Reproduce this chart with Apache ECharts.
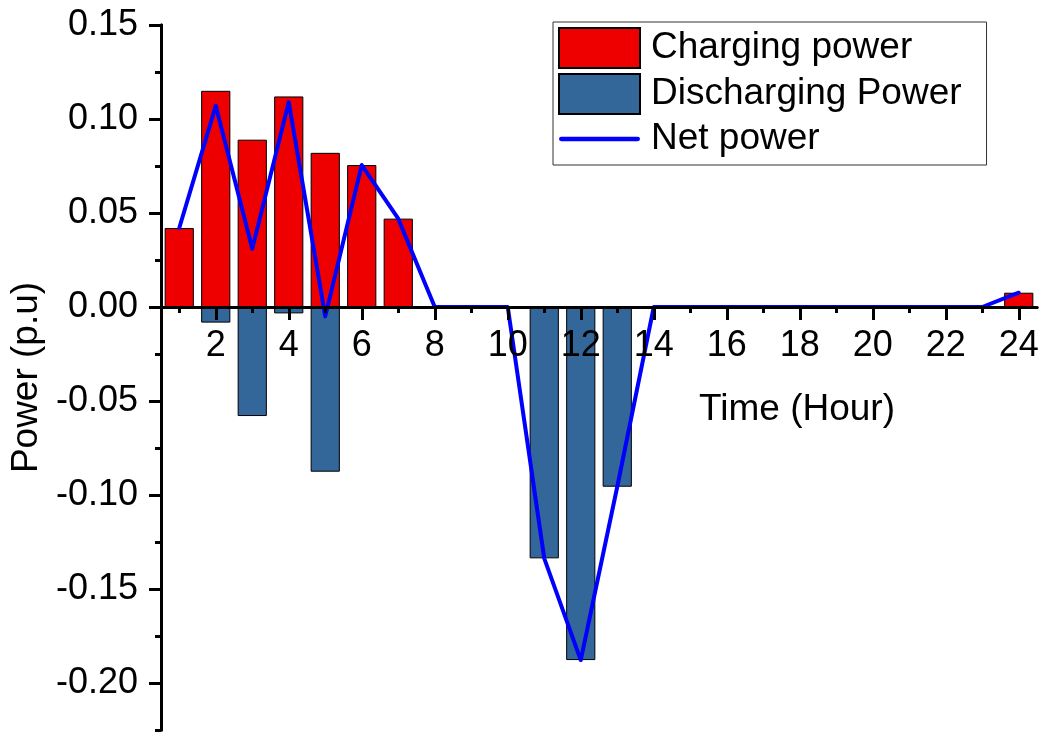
<!DOCTYPE html>
<html>
<head>
<meta charset="utf-8">
<script src="https://cdn.jsdelivr.net/npm/echarts@6/dist/echarts.min.js"></script>
<style>
  html, body { margin: 0; padding: 0; background: #fff; }
  #chart { width: 1042px; height: 733px; }
</style>
</head>
<body>
<div id="chart"></div>
<script>
// Hours of the day (category axis)
const hours = ['1','2','3','4','5','6','7','8','9','10','11','12','13','14','15','16','17','18','19','20','21','22','23','24'];

// Storage charging power per hour (p.u), '-' = no charging
const chargingPower = [0.042, 0.115, 0.089, 0.112, 0.082, 0.0755, 0.047, '-', '-', '-', '-', '-', '-', '-', '-', '-', '-', '-', '-', '-', '-', '-', '-', 0.0076];

// Storage discharging power per hour (p.u), '-' = no discharging
const dischargingPower = ['-', -0.0083, -0.058, -0.0034, -0.0876, '-', '-', '-', '-', '-', -0.1337, -0.1878, -0.0956, '-', '-', '-', '-', '-', '-', '-', '-', '-', '-', '-'];

// Net power per hour (p.u)
const netPower = [0.042, 0.107, 0.031, 0.109, -0.005, 0.0755, 0.047, 0, 0, 0, -0.1337, -0.1878, -0.0956, 0, 0, 0, 0, 0, 0, 0, 0, 0, 0, 0.0076];

// Y axis tick values: labelled major ticks and unlabelled minor ticks
const yMajorTicks = [-0.2, -0.15, -0.1, -0.05, 0, 0.05, 0.1, 0.15];
const yMinorTicks = [-0.225, -0.175, -0.125, -0.075, -0.025, 0.025, 0.075, 0.125];
const yMin = -0.225;
const yMax = 0.15;

const FONT = "'Liberation Sans', Arial, Helvetica, sans-serif";
// index i holds hour i + 1
const isEvenHour = (i) => (i + 1) % 2 === 0;
const isOddHour = (i) => (i + 1) % 2 === 1;

// plot area geometry; the hour axis is lifted from the bottom edge to the zero line
const GRID_TOP = 25, GRID_BOTTOM = 3, CHART_H = 733;
const plotH = CHART_H - GRID_TOP - GRID_BOTTOM;
const zeroOffset = -plotH * (0 - yMin) / (yMax - yMin);

const chart = echarts.init(document.getElementById('chart'), null, { renderer: 'canvas' });

const hourAxis = (tickFilter, tickLen, showLabels) => ({
  type: 'category',
  data: hours,
  boundaryGap: true,
  position: 'bottom',
  offset: zeroOffset,
  z: 3,
  axisLine: { show: true, onZero: false, lineStyle: { color: '#000', width: 3 } },
  axisTick: { show: true, alignWithLabel: true, interval: tickFilter, length: tickLen, lineStyle: { color: '#000', width: 3 } },
  axisLabel: { show: showLabels, interval: tickFilter, fontFamily: FONT, fontSize: 36, color: '#000', margin: 21 },
  splitLine: { show: false }
});

chart.setOption({
  animation: false,
  backgroundColor: '#ffffff',
  textStyle: { fontFamily: FONT, color: '#000' },
  grid: { left: 161, right: 5, top: GRID_TOP, bottom: GRID_BOTTOM, containLabel: false, outerBoundsMode: 'none' },
  legend: {
    orient: 'vertical',
    left: 553,
    top: 22,
    padding: [5, 25, 6, 5],
    itemWidth: 81,
    itemHeight: 40,
    itemGap: 4,
    borderColor: '#333',
    borderWidth: 1,
    backgroundColor: '#fff',
    textStyle: { fontFamily: FONT, fontSize: 37, color: '#000', padding: [0, 0, 0, 6], lineHeight: 40 },
    data: [
      { name: 'Charging power', icon: 'rect' },
      { name: 'Discharging Power', icon: 'rect' },
      { name: 'Net power', icon: 'path://M2 0H82A2 2 0 0 1 82 4.5H2A2 2 0 0 1 2 0Z', itemStyle: { color: '#0000FF', borderWidth: 0 } }
    ]
  },
  xAxis: [
    // long ticks and labels at even hours
    hourAxis(isEvenHour, 13, true),
    // short ticks at odd hours
    hourAxis(isOddHour, 6, false)
  ],
  yAxis: [
    {
      type: 'value',
      min: yMin,
      max: yMax,
      position: 'left',
      name: 'Power (p.u)',
      nameLocation: 'middle',
      nameGap: 113,
      nameTextStyle: { fontFamily: FONT, fontSize: 37, color: '#000' },
      axisLine: { show: true, onZero: false, lineStyle: { color: '#000', width: 3 } },
      axisTick: { show: true, customValues: yMajorTicks, length: 12, lineStyle: { color: '#000', width: 3 } },
      axisLabel: { customValues: yMajorTicks, formatter: (v) => v.toFixed(2), fontFamily: FONT, fontSize: 36, color: '#000', margin: 23 },
      splitLine: { show: false }
    },
    {
      type: 'value',
      min: yMin,
      max: yMax,
      position: 'left',
      axisLine: { show: true, onZero: false, lineStyle: { color: '#000', width: 3 } },
      axisTick: { show: true, customValues: yMinorTicks, length: 6, lineStyle: { color: '#000', width: 3 } },
      axisLabel: { show: false },
      splitLine: { show: false }
    }
  ],
  graphic: [
    {
      type: 'text',
      x: 797,
      y: 410,
      style: { text: 'Time (Hour)', fontFamily: FONT, fontSize: 37, fill: '#000', align: 'center', verticalAlign: 'middle' }
    }
  ],
  series: [
    {
      name: 'Charging power',
      type: 'bar',
      xAxisIndex: 0,
      yAxisIndex: 0,
      data: chargingPower,
      barCategoryGap: '20%',
      barGap: '-100%',
      z: 1,
      itemStyle: { color: '#EE0000', borderColor: '#000', borderWidth: 1 }
    },
    {
      name: 'Discharging Power',
      type: 'bar',
      xAxisIndex: 0,
      yAxisIndex: 0,
      data: dischargingPower,
      barCategoryGap: '20%',
      barGap: '-100%',
      z: 1,
      itemStyle: { color: '#336699', borderColor: '#000', borderWidth: 1 }
    },
    {
      name: 'Net power',
      type: 'line',
      xAxisIndex: 0,
      yAxisIndex: 0,
      data: netPower,
      symbol: 'none',
      z: 2,
      lineStyle: { color: '#0000FF', width: 4, cap: 'round', join: 'round' },
      itemStyle: { color: '#0000FF' }
    }
  ]
});
</script>
</body>
</html>
